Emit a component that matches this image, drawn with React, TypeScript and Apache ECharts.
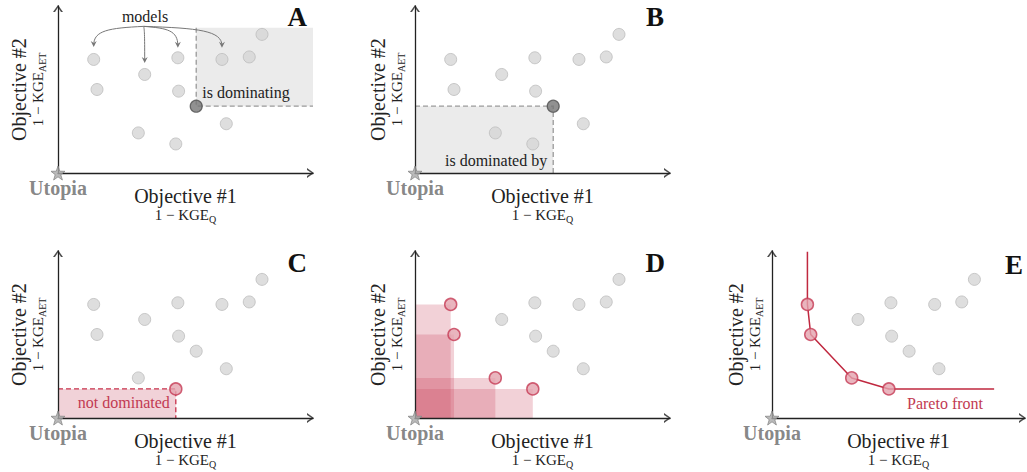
import React, { useEffect, useRef } from 'react';
import * as echarts from 'echarts';

// ---- data (model positions in objective space, arbitrary units 0..100) ----
const ptsX = [14, 34, 47, 64.3, 75, 80, 15.3, 47.3, 54.2, 66, 31.5, 46.2];
const ptsY = [68, 59, 69, 68, 69.5, 83, 50, 49, 40, 29.5, 24, 17.4];
const darkIdx = [8];
const redIdxC = [11];
const redIdxDE = [0, 6, 10, 11];
const modelsFrom = [33.6, 87.8];
const modelsTo = [[14, 75.4], [34, 65.9], [47, 75], [64.3, 75]];
const dominatingCorner = [100, 87];
const paretoTopY = 99.5;
const paretoEndX = 87.8;
const axisMax = 100;
const panelLetters = ['A', 'B', 'C', 'D', 'E'];
const xTitle = 'Objective #1';
const yTitle = 'Objective #2';
const xSub = ['1 − KGE', 'Q'];
const ySub = ['1 − KGE', 'AET'];

const FONT = '"Liberation Serif", "Times New Roman", serif';
const GRIDS = [
  { left: 58, top: 6, w: 255, yGap: 11, letter: [307, 17] },
  { left: 415, top: 6, w: 255, yGap: 9, letter: [664, 17] },
  { left: 58, top: 251, w: 255, yGap: 11, letter: [307, 263] },
  { left: 415, top: 251, w: 255, yGap: 9, letter: [665, 263] },
  { left: 772, top: 251, w: 253, yGap: 8, letter: [1023, 265] },
];
const STAR = 'path://M50,2 L62,36 L98,37 L69,59 L80,94 L50,73 L20,94 L31,59 L2,37 L38,36 Z';
const CHEV_RIGHT = 'path://M0,0 L10,5 L0,10 L0,8 L6.6,5 L0,2 Z';
const CHEV_UP = 'path://M0,10 L5,0 L10,10 L8,10 L5,3.4 L2,10 Z';

const GRAY = { color: '#d6d6d6', borderColor: '#bdbdbd', borderWidth: 1 };
const DARK = { color: '#767676', borderColor: '#4e4e4e', borderWidth: 1.2 };
const RED = { color: '#e3a2ae', borderColor: '#c63b55', borderWidth: 1.5 };

const rich = {
  a: { fontSize: 20, fontFamily: FONT, color: '#222', lineHeight: 21 },
  b: { fontSize: 15, fontFamily: FONT, color: '#222', lineHeight: 18 },
  s: { fontSize: 10, fontFamily: FONT, color: '#222', lineHeight: 10, verticalAlign: 'bottom' },
};

function regionSeries(i: number, data: number[][], cfg: any) {
  return {
    type: 'custom',
    xAxisIndex: i,
    yAxisIndex: i,
    z: 1,
    silent: true,
    clip: false,
    encode: { x: [0, 2], y: [1, 3] },
    data,
    renderItem: (params: any, api: any) => {
      const a = api.coord([api.value(0), api.value(1)]);
      const b = api.coord([api.value(2), api.value(3)]);
      const x = Math.min(a[0], b[0]);
      const y = Math.min(a[1], b[1]);
      const w = Math.abs(b[0] - a[0]);
      const h = Math.abs(b[1] - a[1]);
      const children: any[] = [
        { type: 'rect', shape: { x, y, width: w, height: h }, style: { fill: cfg.fill } },
      ];
      const dash = { stroke: cfg.stroke, lineWidth: 1.3, lineDash: [5, 3], fill: null };
      if (cfg.edges === 'lb') {
        children.push({ type: 'polyline', shape: { points: [[x, y], [x, y + h], [x + w, y + h]] }, style: dash });
      } else if (cfg.edges === 'tr') {
        children.push({ type: 'polyline', shape: { points: [[x, y], [x + w, y], [x + w, y + h]] }, style: dash });
      }
      if (cfg.text) {
        const left = cfg.anchor === 'left';
        const tx = left ? x + 6 : x + w - 6;
        const ty = y + h - cfg.dy;
        children.push({
          type: 'text',
          x: tx,
          y: ty,
          style: {
            text: cfg.text,
            fill: cfg.textColor,
            font: `16px ${FONT}`,
            align: left ? 'left' : 'right',
            verticalAlign: 'middle',
            textAlign: left ? 'left' : 'right',
            textVerticalAlign: 'middle',
          },
        });
      }
      return { type: 'group', children };
    },
  };
}

function arrowSeries(i: number) {
  return {
    type: 'custom',
    xAxisIndex: i,
    yAxisIndex: i,
    z: 4,
    silent: true,
    clip: false,
    encode: { x: [0, 2], y: [1, 3] },
    data: modelsTo.map((t) => [modelsFrom[0], modelsFrom[1], t[0], t[1]]),
    renderItem: (params: any, api: any) => {
      const s = api.coord([api.value(0), api.value(1)]);
      const e = api.coord([api.value(2), api.value(3)]);
      const c1 = [s[0] + 0.7 * (e[0] - s[0]), s[1] + 0.08 * (e[1] - s[1])];
      const c2 = [e[0], s[1] + 0.2 * (e[1] - s[1])];
      return {
        type: 'group',
        children: [
          {
            type: 'bezierCurve',
            shape: { x1: s[0], y1: s[1], x2: e[0], y2: e[1] - 2, cpx1: c1[0], cpy1: c1[1], cpx2: c2[0], cpy2: c2[1] },
            style: { stroke: '#777', lineWidth: 1, fill: null },
          },
          {
            type: 'polygon',
            shape: { points: [[e[0] - 3, e[1] - 6], [e[0], e[1]], [e[0] + 3, e[1] - 6], [e[0], e[1] - 4]] },
            style: { fill: '#777' },
          },
        ],
      };
    },
  };
}

export default function App() {
  const ref = useRef<HTMLDivElement>(null);
  useEffect(() => {
    if (!ref.current) return;
    const chart = echarts.init(ref.current, null, { renderer: 'svg' });
    const series: any[] = [];
    GRIDS.forEach((g, i) => {
      const hl = i < 2 ? darkIdx : i === 2 ? redIdxC : redIdxDE;
      const gray = ptsX.map((_, k) => k).filter((k) => hl.indexOf(k) < 0);
      series.push({
        type: 'scatter', xAxisIndex: i, yAxisIndex: i, clip: false, silent: true, z: 6,
        symbolSize: 12, itemStyle: GRAY,
        data: gray.map((k) => [ptsX[k], ptsY[k]]),
      });
      series.push({
        type: 'scatter', xAxisIndex: i, yAxisIndex: i, clip: false, silent: true, z: 7,
        symbolSize: 12, itemStyle: i < 2 ? DARK : RED,
        data: hl.map((k) => [ptsX[k], ptsY[k]]),
      });
      series.push({
        type: 'scatter', xAxisIndex: i, yAxisIndex: i, clip: false, silent: true, z: 10,
        symbol: STAR, symbolSize: 14,
        itemStyle: { color: '#a9a9a9', borderColor: '#8a8a8a', borderWidth: 1 },
        label: {
          show: true, position: 'inside', offset: [0, 15], formatter: 'Utopia',
          fontFamily: FONT, fontWeight: 'bold', fontSize: 20, color: '#676767',
        },
        data: [[0, 0]],
      });
      // axis arrowheads
      series.push({
        type: 'scatter', xAxisIndex: i, yAxisIndex: i, clip: false, silent: true, z: 9,
        symbol: CHEV_RIGHT, symbolSize: [7, 10], symbolOffset: [-2.5, 0],
        itemStyle: { color: '#222' },
        data: [[axisMax, 0]],
      });
      series.push({
        type: 'scatter', xAxisIndex: i, yAxisIndex: i, clip: false, silent: true, z: 9,
        symbol: CHEV_UP, symbolSize: [10, 7], symbolOffset: [0, 2.5],
        itemStyle: { color: '#222' },
        data: [[0, axisMax]],
      });
    });
    series.push(regionSeries(0, [[ptsX[8], ptsY[8], dominatingCorner[0], dominatingCorner[1]]], {
      fill: '#ebebeb', stroke: '#9a9a9a', edges: 'lb', text: 'is dominating', anchor: 'left', dy: 14, textColor: '#222',
    }));
    series.push(regionSeries(1, [[0, 0, ptsX[8], ptsY[8]]], {
      fill: '#ebebeb', stroke: '#9a9a9a', edges: 'tr', text: 'is dominated by', anchor: 'right', dy: 13, textColor: '#222',
    }));
    series.push(regionSeries(2, [[0, 0, ptsX[11], ptsY[11]]], {
      fill: '#f1d2d8', stroke: '#c8304a', edges: 'tr', text: 'not dominated', anchor: 'right', dy: 16, textColor: '#c23a52',
    }));
    series.push(regionSeries(3, redIdxDE.map((k) => [0, 0, ptsX[k], ptsY[k]]), {
      fill: 'rgba(205,70,95,0.25)', edges: 'none',
    }));
    series.push(arrowSeries(0));
    const front = [[ptsX[redIdxDE[0]], paretoTopY]]
      .concat(redIdxDE.map((k) => [ptsX[k], ptsY[k]]))
      .concat([[paretoEndX, ptsY[redIdxDE[redIdxDE.length - 1]]]]);
    series.push({
      type: 'line', xAxisIndex: 4, yAxisIndex: 4, z: 5, silent: true, clip: false,
      showSymbol: false, symbol: 'none',
      lineStyle: { color: '#c0283f', width: 1.5 },
      data: front,
    });

    const graphics: any[] = GRIDS.map((g, i) => ({
      type: 'text', x: g.letter[0], y: g.letter[1],
      style: {
        text: panelLetters[i], font: `bold 27px ${FONT}`, fill: '#111',
        align: 'right', verticalAlign: 'middle', textAlign: 'right', textVerticalAlign: 'middle',
      },
    }));
    graphics.push({
      type: 'text', x: 145, y: 16,
      style: { text: 'models', font: `16px ${FONT}`, fill: '#222', align: 'center', verticalAlign: 'middle', textAlign: 'center', textVerticalAlign: 'middle' },
    });
    graphics.push({
      type: 'text', x: 945, y: 403,
      style: { text: 'Pareto front', font: `16px ${FONT}`, fill: '#c23a52', align: 'center', verticalAlign: 'middle', textAlign: 'center', textVerticalAlign: 'middle' },
    });

    const axisLine = {
      show: true, onZero: false,
      lineStyle: { color: '#222', width: 1.3 },
    };
    chart.setOption({
      animation: false,
      grid: GRIDS.map((g) => ({ left: g.left, top: g.top, width: g.w, height: 167 })),
      xAxis: GRIDS.map((g, i) => ({
        type: 'value', gridIndex: i, min: 0, max: axisMax, z: 5,
        axisLine, axisTick: { show: false }, axisLabel: { show: false }, splitLine: { show: false },
        name: `{a|${xTitle}}\n{b|${xSub[0]}}{s|${xSub[1]}}`,
        nameLocation: 'middle', nameGap: 12,
        nameTextStyle: { fontFamily: FONT, color: '#222', rich },
      })),
      yAxis: GRIDS.map((g, i) => ({
        type: 'value', gridIndex: i, min: 0, max: axisMax, z: 5,
        axisLine, axisTick: { show: false }, axisLabel: { show: false }, splitLine: { show: false },
        name: `{a|${yTitle}}\n{b|${ySub[0]}}{s|${ySub[1]}}`,
        nameLocation: 'middle', nameGap: g.yGap, nameRotate: 90,
        nameTextStyle: { fontFamily: FONT, color: '#222', rich },
      })),
      series,
      graphic: graphics,
    });
    return () => chart.dispose();
  }, []);
  return <div ref={ref} style={{ position: 'absolute', left: 0, top: 0, width: 1027, height: 472 }} />;
}
